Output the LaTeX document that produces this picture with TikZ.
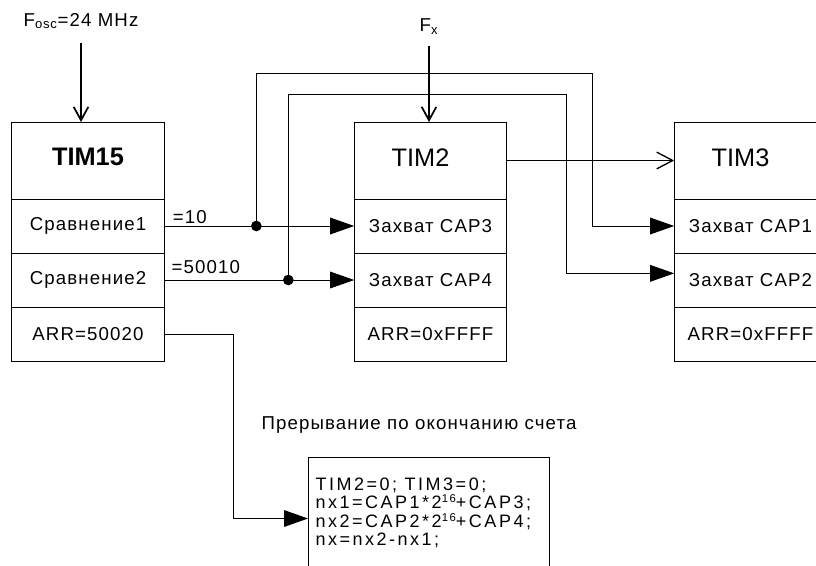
\documentclass[tikz,border=0pt]{standalone}
\usepackage{fontspec}
\setmainfont{Liberation Sans}
\newfontfamily\txtfont[LetterSpace=6]{Liberation Sans}
\newfontfamily\codefont[LetterSpace=14]{Liberation Sans}
\newcommand\pw[1]{\raisebox{4.5pt}{\fontsize{8.5}{9}\selectfont #1}}
\usetikzlibrary{arrows.meta, positioning}
\tikzset{
  every picture/.style={font=\txtfont\fontsize{14}{16}\selectfont, line width=0.75pt},
  head/.style={draw, minimum width=114.5pt, minimum height=57.75pt, outer sep=0pt, font=\fontsize{19}{22}\selectfont},
  cell/.style={draw, minimum width=114.5pt, minimum height=40.5pt, outer sep=0pt},
  capt/.style={-{Triangle[length=18pt, width=12.5pt]}},
  feed/.style={-{Straight Barb[length=10pt, width=11pt]}, line width=1.3pt},
  link/.style={-{Straight Barb[length=12pt, width=12.5pt]}, line width=1pt},
  note/.style={inner sep=1pt},
  dot/.style={circle, fill, inner sep=0pt, minimum size=8pt},
}

\begin{document}
\begin{tikzpicture}[x=0.75pt, y=-0.75pt]
  \useasboundingbox (0,0) rectangle (816,565);
  \clip (0,0) rectangle (816,565);
  % TIM15
  \node[head] (t15) at (88,160.5) {\raisebox{5pt}{\bfseries TIM15}};
  \node[cell, below=0pt of t15] (t15a) {Сравнение1};
  \node[cell, below=0pt of t15a] (t15b) {Сравнение2};
  \node[cell, below=0pt of t15b] (t15c) {ARR=50020};
  % TIM2
  \node[head] (t2) at (430.5,160.5) {\raisebox{5pt}{TIM2\hspace{15pt}}};
  \node[cell, below=0pt of t2] (t2a) {Захват CAP3};
  \node[cell, below=0pt of t2a] (t2b) {Захват CAP4};
  \node[cell, below=0pt of t2b] (t2c) {ARR=0xFFFF};
  % TIM3
  \node[head] (t3) at (750.5,160.5) {\raisebox{5pt}{TIM3\hspace{15pt}}};
  \node[cell, below=0pt of t3] (t3a) {Захват CAP1};
  \node[cell, below=0pt of t3a] (t3b) {Захват CAP2};
  \node[cell, below=0pt of t3b] (t3c) {ARR=0xFFFF};
  % clock inputs
  \node[note] (fosc) at (81,21) {F\textsubscript{osc}=24 MHz};
  \node[note] (fx) at (429,27) {F\textsubscript{x}};
  \draw[feed] ([yshift=-9pt]fosc.south) -- (fosc.south |- t15.north);
  \draw[feed] ([yshift=-7pt]fx.south) -- (fx.south |- t2.north);
  \draw[link] (t2.east) -- (t3.west);
  % compare outputs
  \coordinate (j1) at ([xshift=69pt]t15a.east);
  \coordinate (j2) at ([xshift=93pt]t15b.east);
  \coordinate (r1) at (592,73);
  \coordinate (r2) at (566,94);
  \draw[capt] (t15a.east) node[note, above right, xshift=5pt] {=10} -- (t2a.west);
  \draw[capt] (t15b.east) node[note, above right, xshift=4pt, yshift=3pt] {=50010} -- (t2b.west);
  \draw[capt] (j1) |- (r1) |- (t3a.west);
  \draw[capt] (j2) |- (r2) |- ([yshift=5pt]t3b.west);
  \node[dot] (d1) at (j1) {};
  \node[dot] (d2) at (j2) {};
  % interrupt
  \node (irq) at (419,425) {Прерывание по окончанию счета};
  \node[draw, anchor=north west, minimum width=180.75pt, minimum height=92.25pt, outer sep=0pt] (code) at (308,457) {};
  \node[anchor=north west, align=left, inner sep=0pt, font=\codefont\fontsize{13.5}{13.9}\selectfont] (codetxt) at (315,477)
    {TIM2=0; TIM3=0;\\nx1=CAP1*2\pw{16}+CAP3;\\nx2=CAP2*2\pw{16}+CAP4;\\nx=nx2-nx1;};
  \coordinate (k) at (233,518.5);
  \draw[capt] (t15c.east) -| (k) -- (code.west);
\end{tikzpicture}
\end{document}
